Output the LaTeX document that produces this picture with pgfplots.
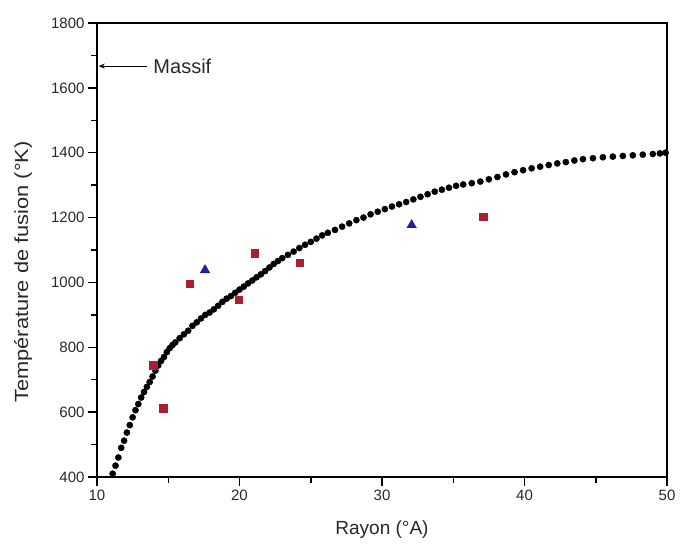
\documentclass[border=0pt]{standalone}
\usepackage{pgfplots}
\pgfplotsset{compat=1.18}
\usepackage{fontspec}
\setmainfont{Liberation Sans}
\usepackage{graphicx}
\usetikzlibrary{calc,arrows.meta}
\definecolor{dred}{RGB}{170,30,50}
\definecolor{dblue}{RGB}{30,30,165}
\definecolor{txt}{RGB}{40,40,40}
\begin{document}
\begin{tikzpicture}
\begin{axis}[
  scale only axis,
  width=570pt, height=454pt,
  xmin=10, xmax=50, ymin=400, ymax=1800,
  xtick={10,20,30,40,50},
  ytick={400,600,800,1000,1200,1400,1600,1800},
  minor x tick num=1, minor y tick num=1,
  axis line style={line width=1.6pt},
  every tick/.style={line width=1.5pt, black},
  major tick length=9pt, minor tick length=6pt,
  tick align=outside,
  tick pos=left,
  /pgf/number format/assume math mode=true,
  /pgf/number format/1000 sep={},
  ticklabel style={font=\fontsize{15}{18}\selectfont, text=txt},
  xlabel={Rayon (°A)},
  ylabel={\scalebox{1.15}[1]{Température de fusion (°K)}},
  xlabel style={font=\fontsize{19}{22}\selectfont, text=txt, at={(axis description cs:0.5,0)}, anchor=center, yshift=-53pt},
  ylabel style={font=\fontsize{19}{22}\selectfont, text=txt, at={(axis description cs:0,0.5)}, anchor=center, yshift=74pt, xshift=-22pt},
  clip=false,
]
\addplot[only marks, mark=*, mark size=3.1pt, black] coordinates {
(11.1,410) (11.3,435) (11.5,460) (11.7,490) (11.9,512) (12.1,537) (12.3,560) (12.5,584)
(12.7,606) (12.9,625) (13.1,645) (13.3,662) (13.5,678) (13.7,693) (13.9,710) (14.1,728)
(14.3,744) (14.5,758) (14.7,770) (14.9,785) (15.1,797) (15.3,807) (15.5,815) (15.8,828)
(16.1,840) (16.4,851) (16.7,866) (17.0,877) (17.3,889) (17.6,900) (17.9,907) (18.2,917)
(18.5,928) (18.8,940) (19.1,950) (19.4,958) (19.7,968) (20.0,978) (20.3,987) (20.6,997)
(20.9,1006) (21.2,1016) (21.5,1025) (21.8,1035) (22.1,1046) (22.4,1057) (22.7,1066) (23.0,1075)
(23.4,1085) (23.8,1095) (24.2,1106) (24.6,1116) (25.0,1125) (25.4,1135) (25.8,1145) (26.2,1153)
(26.7,1162) (27.2,1172) (27.7,1182) (28.2,1192) (28.7,1200) (29.2,1210) (29.7,1218) (30.2,1226)
(30.7,1234) (31.2,1241) (31.7,1248) (32.2,1256) (32.7,1264) (33.2,1272) (33.7,1280) (34.2,1286)
(34.7,1292) (35.2,1298) (35.7,1302) (36.3,1306) (36.9,1311) (37.5,1318) (38.1,1325) (38.7,1333)
(39.3,1340) (39.9,1346) (40.5,1352) (41.1,1357) (41.7,1362) (42.3,1367) (42.9,1371) (43.5,1376)
(44.1,1380) (44.8,1383) (45.5,1386) (46.2,1388) (46.9,1390) (47.6,1392) (48.3,1394) (49.0,1396)
(49.5,1398) (49.9,1400)
};
\addplot[only marks, mark=square*, mark size=3.6pt, dred] coordinates {
(13.95,745) (14.65,612) (16.53,997) (19.92,946) (21.09,1090) (24.2,1060) (37.1,1203)
};
\addplot[only marks, mark=triangle*, mark size=5.5pt, dblue] coordinates {
(17.58,1038) (32.08,1177)
};
\draw[-{Stealth[length=6pt,width=5pt]}, line width=1.2pt, black] (axis cs:13.5,1667) -- (axis cs:10.12,1667);
\node[anchor=west, font=\fontsize{20}{24}\selectfont, text=txt, inner sep=0pt] at (axis cs:13.95,1667) {Massif};
\end{axis}
\path ($(current axis.south west)+(-97pt,-70pt)$) rectangle ($(current axis.north east)+(14pt,23pt)$);
\end{tikzpicture}
\end{document}
